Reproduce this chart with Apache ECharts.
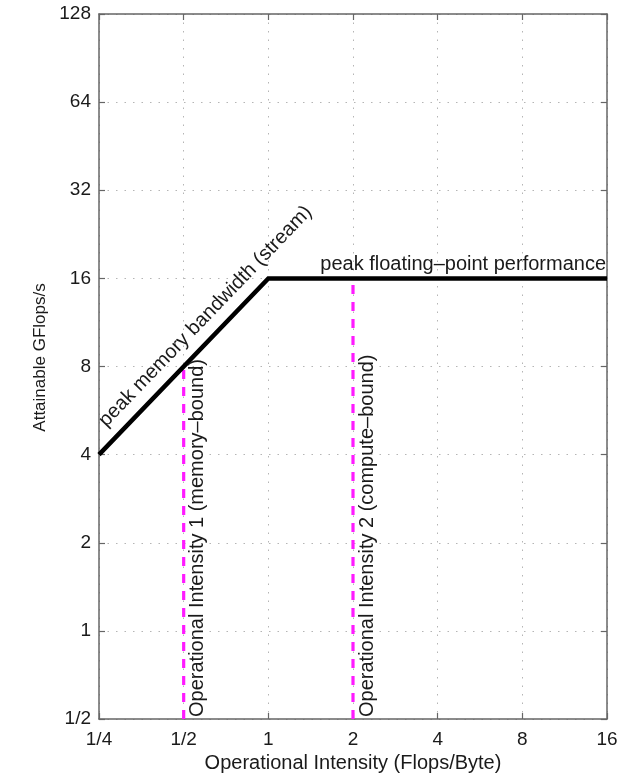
<!DOCTYPE html>
<html>
<head>
<meta charset="utf-8">
<script src="https://cdn.jsdelivr.net/npm/echarts@6/dist/echarts.min.js"></script>
<style>
html,body{margin:0;padding:0;background:#fff;}
#chart{width:631px;height:773px;}
</style>
</head>
<body>
<div id="chart"></div>
<script>
// ---- data ----
var xTickLabels = ['1/4', '1/2', '1', '2', '4', '8', '16'];
var yTickLabels = ['1/2', '1', '2', '4', '8', '16', '32', '64', '128'];
var xRange = [0.25, 16];
var yRange = [0.5, 128];
var roofX = [0.25, 1, 16];
var roofY = [4, 16, 16];
var oiX = [0.5, 2];
var oiTop = [8, 16];
var oiLabels = ['Operational Intensity 1 (memory\u2013bound)', 'Operational Intensity 2 (compute\u2013bound)'];
var slopeLabel = 'peak memory bandwidth (stream)';
var flatLabel = 'peak floating\u2013point performance';
var xTitle = 'Operational Intensity (Flops/Byte)';
var yTitle = 'Attainable GFlops/s';

var FONT = 'Liberation Sans, Arial, Helvetica, sans-serif';
var AXIS_COLOR = '#666';
var TEXT_COLOR = '#1a1a1a';

function labelFor(list, minVal) {
  return function (v) {
    var idx = Math.round(Math.log2(v) - Math.log2(minVal));
    return list[idx] != null ? list[idx] : '';
  };
}

var chart = echarts.init(document.getElementById('chart'), null, {renderer: 'canvas'});

function mirrorAxis(base, pos) {
  return Object.assign({}, base, {
    position: pos,
    name: '',
    axisLabel: {show: false},
    splitLine: {show: false}
  });
}

var xBase = {
  type: 'log', logBase: 2, min: xRange[0], max: xRange[1], interval: 1,
  axisLine: {show: true, lineStyle: {color: AXIS_COLOR, width: 1.5}},
  axisTick: {show: true, inside: true, length: 6, lineStyle: {color: AXIS_COLOR, width: 1.2}},
  minorTick: {show: false},
  splitLine: {show: true, lineStyle: {color: '#b5b5b5', width: 1, type: [1.5, 7]}}
};
var yBase = {
  type: 'log', logBase: 2, min: yRange[0], max: yRange[1], interval: 1,
  axisLine: {show: true, lineStyle: {color: AXIS_COLOR, width: 1.5}},
  axisTick: {show: true, inside: true, length: 6, lineStyle: {color: AXIS_COLOR, width: 1.2}},
  minorTick: {show: false},
  splitLine: {show: true, lineStyle: {color: '#b5b5b5', width: 1, type: [1.5, 7]}}
};

var xMain = Object.assign({}, xBase, {
  position: 'bottom',
  name: xTitle, nameLocation: 'middle', nameGap: 31,
  nameTextStyle: {fontFamily: FONT, fontSize: 20, color: TEXT_COLOR},
  axisLabel: {fontFamily: FONT, fontSize: 19, color: TEXT_COLOR, margin: 11, formatter: labelFor(xTickLabels, xRange[0])}
});
var yMain = Object.assign({}, yBase, {
  position: 'left',
  name: yTitle, nameLocation: 'middle', nameGap: 50,
  nameTextStyle: {fontFamily: FONT, fontSize: 17, color: TEXT_COLOR, padding: [0, 0, 0, 18]},
  axisLabel: {fontFamily: FONT, fontSize: 19, color: TEXT_COLOR, margin: 8, formatter: labelFor(yTickLabels, yRange[0])}
});

var series = [];
oiX.forEach(function (x, i) {
  series.push({
    type: 'line', xAxisIndex: 0, yAxisIndex: 0,
    data: [[x, yRange[0]], [x, oiTop[i]]],
    symbol: 'none', silent: true, z: 3,
    lineStyle: {color: '#ff1aff', width: 3.2, type: [9, 8]}
  });
});
series.push({
  type: 'line', xAxisIndex: 0, yAxisIndex: 0,
  data: roofX.map(function (x, i) { return [x, roofY[i]]; }),
  symbol: 'none', silent: true, z: 4, clip: true,
  lineStyle: {color: '#000', width: 4.5, join: 'miter'}
});

chart.setOption({
  animation: false,
  backgroundColor: '#fff',
  grid: {left: 99, right: 24, top: 14, bottom: 54, containLabel: false, outerBoundsMode: 'none'},
  xAxis: [xMain, mirrorAxis(xBase, 'top')],
  yAxis: [yMain, mirrorAxis(yBase, 'right')],
  series: series
});

// ---- annotations placed from data coordinates ----
function px(pt) { return chart.convertToPixel({gridIndex: 0}, pt); }
var graphics = [];
var p0 = px([roofX[0], roofY[0]]);
var p1 = px([roofX[1], roofY[1]]);
var ang = Math.atan2(p0[1] - p1[1], p1[0] - p0[0]);
var t = 0.71, off = 19;
var sx = p0[0] + (p1[0] - p0[0]) * t - Math.sin(ang) * off;
var sy = p0[1] + (p1[1] - p0[1]) * t - Math.cos(ang) * off;
graphics.push({
  type: 'text', x: sx, y: sy, rotation: ang, z: 10,
  style: {text: slopeLabel, fontFamily: FONT, fontSize: 20, fill: TEXT_COLOR, align: 'center', verticalAlign: 'middle'}
});
var p2 = px([roofX[2], roofY[2]]);
graphics.push({
  type: 'text', x: p2[0] - 1, y: p2[1] - 4, z: 10,
  style: {text: flatLabel, fontFamily: FONT, fontSize: 20, fill: TEXT_COLOR, align: 'right', verticalAlign: 'bottom'}
});
oiX.forEach(function (x, i) {
  var b = px([x, yRange[0]]);
  graphics.push({
    type: 'text', x: b[0] + 14, y: b[1] - 2, rotation: Math.PI / 2, z: 10,
    style: {text: oiLabels[i], fontFamily: FONT, fontSize: 20, fill: TEXT_COLOR, align: 'left', verticalAlign: 'middle'}
  });
});
chart.setOption({graphic: graphics});
</script>
</body>
</html>
